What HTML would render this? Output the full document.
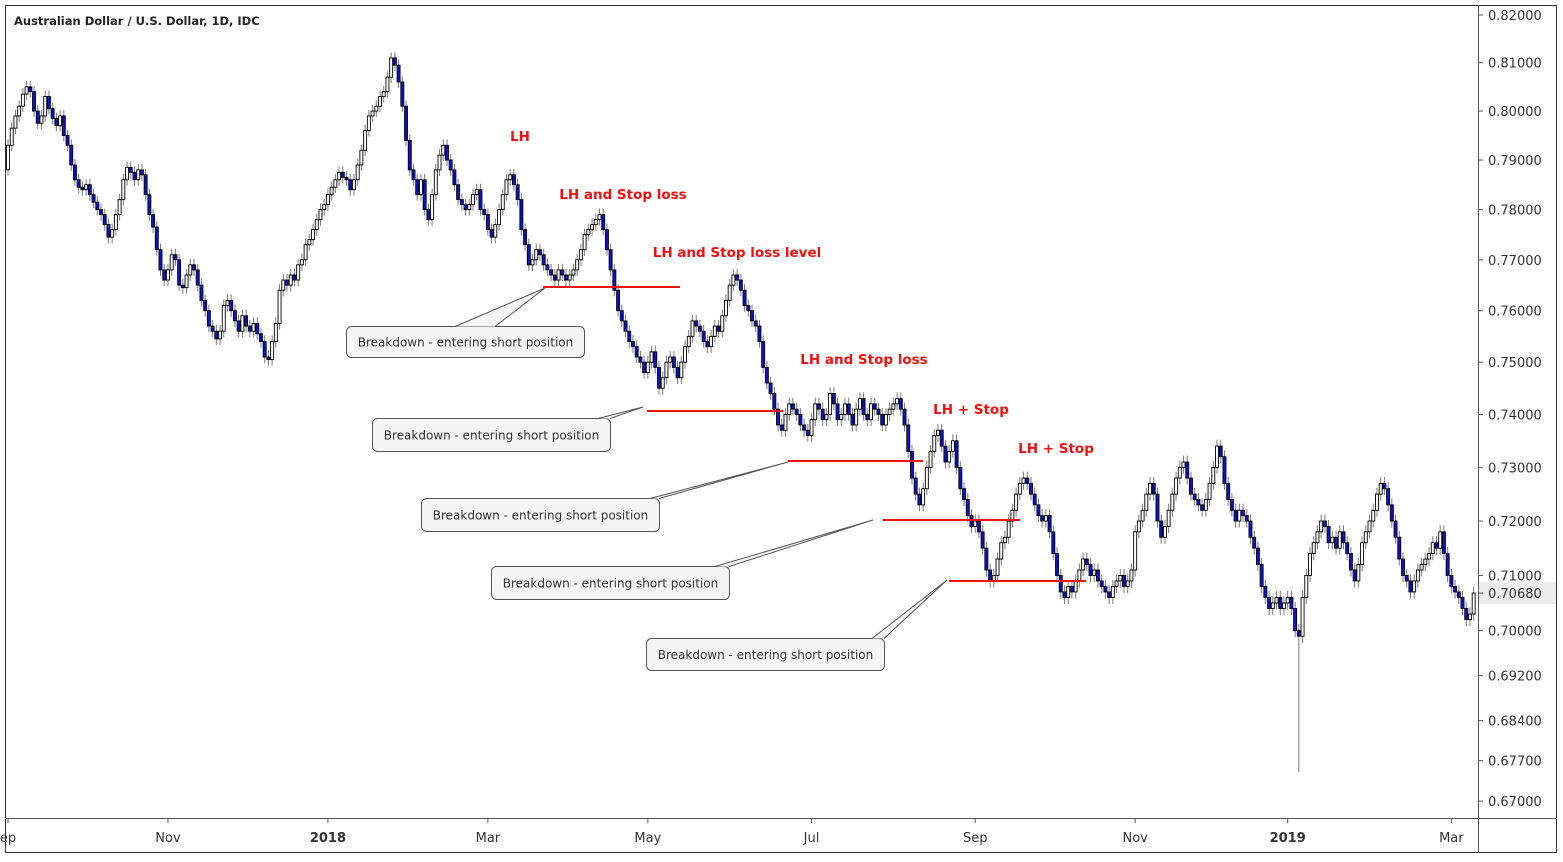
<!DOCTYPE html>
<html><head><meta charset="utf-8"><style>
html,body{margin:0;padding:0;background:#fff}
svg{display:block;font-family:"DejaVu Sans","Liberation Sans",sans-serif}
</style></head><body>
<svg id="chart" width="1563" height="862" viewBox="0 0 1563 862" xmlns="http://www.w3.org/2000/svg">
<rect x="5.5" y="5.5" width="1551" height="847" fill="#fff" stroke="#333"/>
<line x1="1478.5" y1="5" x2="1478.5" y2="852" stroke="#555"/>
<line x1="5" y1="818.5" x2="1557" y2="818.5" stroke="#555"/>
<text x="14" y="25" font-size="11.5" font-weight="bold" fill="#222">Australian Dollar / U.S. Dollar, 1D, IDC</text>
<g id="candles"></g>
<g id="axes"></g>
<g id="ann"></g>
</svg>
<script>
const closes = [
7930,7965,7990,8010,8035,8050,8040,8000,7975,7990,8030,8005,7985,7970,7990,7950,7930,7890,7860,7845,7840,
7850,7830,7815,7800,7790,7770,7745,7760,7790,7820,7860,7885,7875,7860,7880,7870,7830,7790,7765,7720,7680,7660,
7680,7710,7700,7650,7645,7670,7690,7680,7650,7620,7600,7570,7560,7545,7560,7610,7620,7600,7580,7560,7590,7570,
7560,7575,7555,7540,7510,7505,7540,7575,7640,7660,7650,7670,7660,7690,7700,7730,7740,7760,7780,7800,7810,
7830,7845,7860,7875,7865,7860,7840,7860,7890,7920,7960,7990,8000,8010,8030,8040,8070,8110,8095,8060,8010,7940,
7880,7860,7830,7860,7800,7780,7830,7880,7910,7930,7900,7880,7850,7820,7810,7800,7810,7830,7840,7800,
7790,7760,7745,7770,7800,7830,7860,7870,7850,7820,7760,7730,7690,7700,7720,7710,7690,7680,7670,7660,7680,7670,
7660,7670,7680,7700,7720,7750,7760,7770,7780,7790,7760,7720,7680,7640,7600,7580,7560,7540,7530,7510,7500,
7480,7500,7520,7490,7450,7470,7500,7510,7490,7470,7500,7530,7550,7580,7570,7560,7540,7530,7550,7570,7560,7590,
7620,7650,7670,7660,7640,7610,7600,7580,7570,7540,7490,7460,7440,7410,7380,7370,7400,7420,7410,7400,7380,7370,
7360,7390,7420,7410,7390,7400,7440,7420,7390,7400,7420,7400,7380,7410,7430,7400,7390,7420,7410,7400,7380,7400,
7410,7420,7430,7410,7380,7330,7280,7250,7230,7260,7300,7330,7360,7370,7340,7310,7330,7350,7300,7260,7240,7210,7190,
7200,7180,7150,7110,7090,7100,7130,7160,7170,7200,7220,7250,7270,7280,7270,7250,7230,7210,7200,7210,
7180,7140,7100,7070,7060,7080,7070,7090,7110,7130,7120,7100,7110,7090,7080,7070,7060,7080,7090,7100,7080,7090,7110,
7180,7200,7220,7250,7270,7250,7200,7170,7190,7220,7250,7280,7300,7310,7280,7250,7240,7230,7220,7240,7270,7300,
7340,7320,7270,7240,7220,7200,7220,7210,7200,7170,7150,7120,7080,7060,7040,7050,7060,7040,7050,7060,7040,
7000,6990,7060,7100,7140,7160,7180,7200,7190,7160,7170,7150,7180,7160,7140,7110,7090,7120,7160,7180,7200,7220,
7250,7270,7260,7230,7200,7170,7130,7100,7090,7070,7090,7110,7120,7130,7140,7160,7150,7180,7140,7100,
7080,7070,7060,7040,7020,7030,7068];
const firstOpen = 7880;
const wickPips = 12;
const lowOverrideIndex = [347];
const lowOverrideValue = [0.6750];
const priceTicks = [0.82,0.81,0.80,0.79,0.78,0.77,0.76,0.75,0.74,0.73,0.72,0.71,0.70,0.692,0.684,0.677,0.67];
const monthLabels = ["ep","Nov","2018","Mar","May","Jul","Sep","Nov","2019","Mar"];
const monthBarIndex = [0,43,86,129,172,216,260,303,344,388];
const monthBold = [false,false,true,false,false,false,false,false,true,false];
const lastPrice = 0.7068;

const NS="http://www.w3.org/2000/svg";
function yS(p){return 15+(Math.log(0.82)-Math.log(p))*3891;}
function xS(i){return 8+i*3.72;}
function mk(tag,attrs,parent){const e=document.createElementNS(NS,tag);for(const k in attrs)e.setAttribute(k,attrs[k]);parent.appendChild(e);return e;}

const cg=document.getElementById('candles');
for(let i=0;i<closes.length;i++){
  const o=(i===0?firstOpen:closes[i-1])/10000, c=closes[i]/10000;
  const hi=Math.max(o,c)+wickPips/10000;
  let lo=Math.min(o,c)-wickPips/10000;
  const k=lowOverrideIndex.indexOf(i); if(k>=0) lo=lowOverrideValue[k];
  const x=xS(i);
  const g=mk('g',{},cg);
  
  
  mk('line',{x1:x,x2:x,y1:yS(hi),y2:yS(lo),stroke:'#777','stroke-width':1},g);
  const t=yS(Math.max(o,c)), b=yS(Math.min(o,c));
  mk('rect',{x:x-1.5,y:t,width:3,height:Math.max(1,b-t),fill:c<o?'#1010d0':'#fff',stroke:'#000','stroke-width':0.9},g);
}

const ag=document.getElementById('axes');
priceTicks.forEach(p=>{
  const y=yS(p);
  const l=mk('line',{x1:1478,x2:1483,y1:y,y2:y,stroke:'#555'},ag);
  
  
  const t=mk('text',{x:1488,y:y+5,'font-size':13,fill:'#333'},ag);
  
  
  t.textContent=p.toFixed(5);
});
const ly=yS(lastPrice);
const lb=mk('rect',{x:1479,y:ly-11,width:77,height:22,fill:'#ececec'},ag);


mk('line',{x1:1478,x2:1483,y1:ly,y2:ly,stroke:'#555'},ag);
const lt=mk('text',{x:1488,y:ly+5,'font-size':13,fill:'#333'},ag);


lt.textContent=lastPrice.toFixed(5);
monthLabels.forEach((m,j)=>{
  const x=xS(monthBarIndex[j]);
  mk('line',{x1:x,x2:x,y1:818,y2:823,stroke:'#555'},ag);
  const t=mk('text',{x:x,y:842,'font-size':13,fill:'#333','text-anchor':'middle','font-weight':monthBold[j]?'bold':'normal'},ag);
  
  
  t.textContent=m;
});

const an=document.getElementById('ann');
const redLabels=[["LH",520,141],["LH and Stop loss",623,199],["LH and Stop loss level",737,257],["LH and Stop loss",864,364],["LH + Stop",971,414],["LH + Stop",1056,453]];
redLabels.forEach(r=>{
  const t=mk('text',{x:r[1],y:r[2],'font-size':13.5,'font-weight':'bold',fill:'#f01010','text-anchor':'middle'},an);
  
  
  t.textContent=r[0];
});
const redLines=[[543,680,287],[647,783,411],[788,923,461],[883,1020,520],[949,1086,581]];
redLines.forEach(r=>{
  const l=mk('line',{x1:r[0],x2:r[1],y1:r[2],y2:r[2],stroke:'#f01010','stroke-width':2},an);
  
  
});
const callouts=[
 [346,326,238,31,[455,495,326],[545,288]],
 [372,418,238,33,[598,610,418],[643,407]],
 [421,498,238,33,[650,659,498],[788,462]],
 [491,566,238,33,[715,729,566],[873,520]],
 [646,638,238,32,[872,884,638],[947,580]]];
callouts.forEach(c=>{
  const g=mk('g',{},an);
  
  
  mk('rect',{x:c[0]+0.5,y:c[1]+0.5,width:c[2],height:c[3],rx:5,fill:'#f5f5f5',stroke:'#555'},g);
  const b=c[4],tp=c[5];
  mk('polygon',{points:`${b[0]},${b[2]+0.5} ${tp[0]},${tp[1]} ${b[1]},${b[2]+0.5}`,fill:'#f5f5f5',stroke:'none'},g);
  mk('polyline',{points:`${b[0]},${b[2]+0.5} ${tp[0]},${tp[1]} ${b[1]},${b[2]+0.5}`,fill:'none',stroke:'#555'},g);
  const t=mk('text',{x:c[0]+c[2]/2+0.5,y:c[1]+c[3]/2+5,'font-size':12,fill:'#333','text-anchor':'middle'},g);
  t.textContent='Breakdown - entering short position';
});
</script>
</body></html>
